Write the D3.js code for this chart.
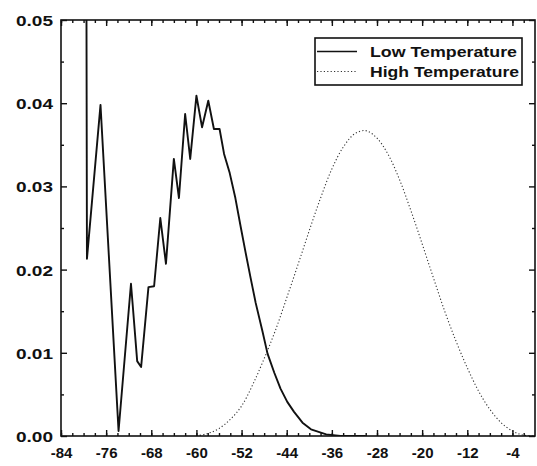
<!DOCTYPE html>
<html><head><meta charset="utf-8">
<script src="https://cdn.jsdelivr.net/npm/d3@7"></script>
<style>body{margin:0;background:#fff} svg{display:block}</style>
</head><body><svg id="c" width="537" height="466"></svg>
<script>
// ---- data ----
const seriesNames = ["Low Temperature", "High Temperature"];
const lowTemp = [-79.6, -79.4, -77, -73.8, -71.6, -71.3, -70.5, -69.8, -68.5, -67.5, -66.4, -65.4, -64, -63.1, -62, -61.1, -60, -59, -57.9, -56.9, -55.9, -55.1, -54.1, -53.1, -52.2, -51.3, -50.4, -49.5, -48.3, -47.4, -46.2, -45.1, -43.9, -42.7, -41.2, -39.7, -37, -34.5, -30];
const lowDensity = [0.09, 0.0213, 0.0398, 0.0006, 0.0183, 0.0158, 0.009, 0.0083, 0.0179, 0.018, 0.0262, 0.0207, 0.0333, 0.0286, 0.0387, 0.0333, 0.0409, 0.0371, 0.0403, 0.0369, 0.0369, 0.0339, 0.0316, 0.0286, 0.0253, 0.0221, 0.019, 0.016, 0.0126, 0.0099, 0.0076, 0.0057, 0.0041, 0.0029, 0.0016, 0.0008, 0.0002, 0, 0];
const highTemp = [-60, -58, -56, -54, -52, -50, -48, -46, -44, -42, -40, -38, -36, -34, -32, -30, -28, -26, -24, -22, -20, -18, -16, -14, -12, -10, -8, -6, -4, -2, 0];
const highDensity = [0, 0.0003, 0.0009, 0.002, 0.0036, 0.0062, 0.0093, 0.0127, 0.0166, 0.0206, 0.0247, 0.0286, 0.0321, 0.0347, 0.0363, 0.0367, 0.0358, 0.0338, 0.0308, 0.0271, 0.0231, 0.019, 0.015, 0.0114, 0.0082, 0.0054, 0.0032, 0.0016, 0.0006, 0.0001, 0];
const xTickValues = [-84, -76, -68, -60, -52, -44, -36, -28, -20, -12, -4];
const xMinorTicks = [-84, -82, -80, -78, -76, -74, -72, -70, -68, -66, -64, -62, -60, -58, -56, -54, -52, -50, -48, -46, -44, -42, -40, -38, -36, -34, -32, -30, -28, -26, -24, -22, -20, -18, -16, -14, -12, -10, -8, -6, -4, -2];
const yTickValues = [0, 0.01, 0.02, 0.03, 0.04, 0.05];
const yMinorTicks = [0.005, 0.015, 0.025, 0.035, 0.045];

// ---- layout ----
const svg = d3.select("#c");
const L = 61, R = 535, T = 20, B = 436;
const FONT = "'Liberation Sans', Arial, Helvetica, sans-serif";
const x = d3.scaleLinear().domain([-84, 0]).range([L, R]);
const y = d3.scaleLinear().domain([0, 0.05]).range([B, T]);

svg.append("defs").append("clipPath").attr("id", "clip")
  .append("rect").attr("x", L).attr("y", T).attr("width", R - L).attr("height", B - T);

// curves
const lowLine = d3.line().x(d => x(d[0])).y(d => y(d[1]));
const highLine = d3.line().x(d => x(d[0])).y(d => y(d[1])).curve(d3.curveCatmullRom);

svg.append("path").datum(d3.zip(highTemp, highDensity))
  .attr("clip-path", "url(#clip)").attr("d", highLine)
  .attr("fill", "none").attr("stroke", "#333").attr("stroke-width", 1.1)
  .attr("stroke-dasharray", "1.2,2.2");

svg.append("path").datum(d3.zip(lowTemp, lowDensity))
  .attr("clip-path", "url(#clip)").attr("d", lowLine)
  .attr("fill", "none").attr("stroke", "#111").attr("stroke-width", 1.9)
  .attr("stroke-linejoin", "round");

// axes
function styleAxis(g) {
  g.select(".domain").remove();
  g.selectAll(".tick line").attr("stroke", "#111").attr("stroke-width", 1.4);
  g.attr("font-family", FONT).attr("font-size", 15).attr("font-weight", "bold");
}
const fmtX = d => String(d);
const gb = svg.append("g").attr("transform", `translate(0,${B})`)
  .call(d3.axisBottom(x).tickValues(xTickValues).tickSize(-6).tickFormat(fmtX)).call(styleAxis);
gb.selectAll("text").attr("y", 22).attr("dy", 0).attr("fill", "#111");
svg.append("g").attr("transform", `translate(0,${B})`)
  .call(d3.axisBottom(x).tickValues(xMinorTicks).tickSize(-3).tickFormat("")).call(styleAxis);
svg.append("g").attr("transform", `translate(0,${T})`)
  .call(d3.axisTop(x).tickValues(xTickValues).tickSize(-6).tickFormat("")).call(styleAxis);
svg.append("g").attr("transform", `translate(0,${T})`)
  .call(d3.axisTop(x).tickValues(xMinorTicks).tickSize(-3).tickFormat("")).call(styleAxis);

const gl = svg.append("g").attr("transform", `translate(${L},0)`)
  .call(d3.axisLeft(y).tickValues(yTickValues).tickSize(-6).tickFormat(d3.format(".2f"))).call(styleAxis);
gl.selectAll("text").attr("x", -8).attr("dy", "0.36em").attr("fill", "#111")
  .attr("textLength", 37).attr("lengthAdjust", "spacingAndGlyphs");
svg.append("g").attr("transform", `translate(${L},0)`)
  .call(d3.axisLeft(y).tickValues(yMinorTicks).tickSize(-3).tickFormat("")).call(styleAxis);
svg.append("g").attr("transform", `translate(${R},0)`)
  .call(d3.axisRight(y).tickValues(yTickValues).tickSize(-6).tickFormat("")).call(styleAxis);
svg.append("g").attr("transform", `translate(${R},0)`)
  .call(d3.axisRight(y).tickValues(yMinorTicks).tickSize(-3).tickFormat("")).call(styleAxis);

// frame
svg.append("rect").attr("x", L).attr("y", T).attr("width", R - L).attr("height", B - T)
  .attr("fill", "none").attr("stroke", "#111").attr("stroke-width", 1.6);

// legend
const lg = svg.append("g");
lg.append("rect").attr("x", 315).attr("y", 38).attr("width", 207).attr("height", 47)
  .attr("fill", "#fff").attr("stroke", "#111").attr("stroke-width", 1.6);
const legendRows = [
  {name: seriesNames[0], ly: 51.5, ty: 56.5, dash: null, sw: 1.6, col: "#111"},
  {name: seriesNames[1], ly: 71.5, ty: 77, dash: "1.2,2.2", sw: 1.1, col: "#333"}
];
legendRows.forEach(r => {
  lg.append("line").attr("x1", 317).attr("x2", 357).attr("y1", r.ly).attr("y2", r.ly)
    .attr("stroke", r.col).attr("stroke-width", r.sw).attr("stroke-dasharray", r.dash);
  lg.append("text").attr("x", 370).attr("y", r.ty).text(r.name)
    .attr("font-family", FONT).attr("font-size", 15).attr("font-weight", "bold").attr("fill", "#111")
    .attr("textLength", r.name.length > 15 ? 149 : 147).attr("lengthAdjust", "spacingAndGlyphs");
});
</script></body></html>
